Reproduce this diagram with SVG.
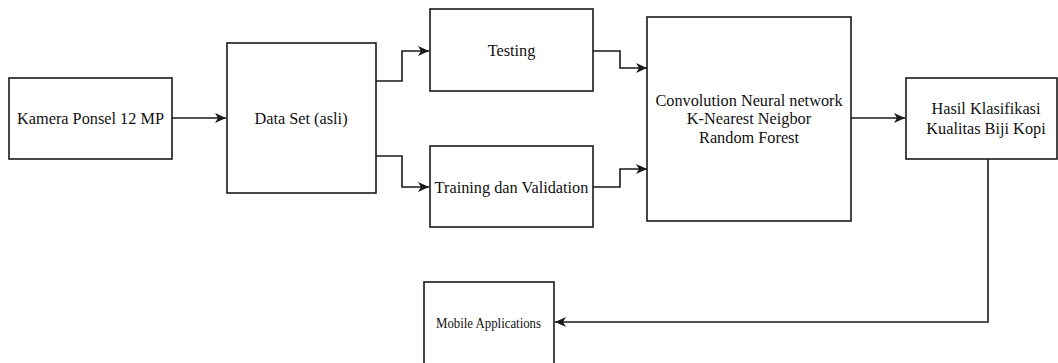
<svg xmlns="http://www.w3.org/2000/svg" width="1058" height="363" viewBox="0 0 1058 363">
<style>
.box{fill:#fff;stroke:#1a1a1a;stroke-width:1.6}
.t{font-family:"Liberation Serif","Times New Roman",serif;font-size:16.3px;fill:#111;text-anchor:middle;dominant-baseline:central}
.s{font-size:15.5px}
.c{fill:none;stroke:#1a1a1a;stroke-width:1.6}
</style>
<defs>
<marker id="ah" markerWidth="12" markerHeight="10" refX="11" refY="5" orient="auto" markerUnits="userSpaceOnUse">
<path d="M0,0 L11,5 L0,10 L3,5 Z" fill="#1a1a1a"/>
</marker>
</defs>
<rect width="1058" height="363" fill="#fff"/>
<g id="connectors">
<path class="c" d="M172,118 L226,118" marker-end="url(#ah)"/>
<path class="c" d="M376,81 L402,81 L402,51 L429,51" marker-end="url(#ah)"/>
<path class="c" d="M376,156 L402,156 L402,187 L429,187" marker-end="url(#ah)"/>
<path class="c" d="M593,51 L620,51 L620,68 L647,68" marker-end="url(#ah)"/>
<path class="c" d="M593,187 L620,187 L620,169 L647,169" marker-end="url(#ah)"/>
<path class="c" d="M851,118 L905,118" marker-end="url(#ah)"/>
<path class="c" d="M988,159 L988,322 L555,322" marker-end="url(#ah)"/>
</g>
<g id="kamera">
<rect class="box" x="9" y="78" width="163" height="81"/>
<text class="t" x="90.5" y="118.5">Kamera Ponsel 12 MP</text>
</g>
<g id="dataset">
<rect class="box" x="227" y="43" width="149" height="150"/>
<text class="t" x="301" y="118.5">Data Set (asli)</text>
</g>
<g id="testing">
<rect class="box" x="430" y="9" width="163" height="82"/>
<text class="t" x="511.5" y="50.5">Testing</text>
</g>
<g id="training">
<rect class="box" x="430" y="146" width="163" height="81"/>
<text class="t" x="511.5" y="187">Training dan Validation</text>
</g>
<g id="models">
<rect class="box" x="647" y="17" width="204" height="204"/>
<text class="t" x="749" y="100">Convolution Neural network</text>
<text class="t" x="749" y="118.5">K-Nearest Neigbor</text>
<text class="t" x="749" y="137">Random Forest</text>
</g>
<g id="hasil">
<rect class="box" x="906" y="78" width="151" height="81"/>
<text class="t" x="986" y="108.5">Hasil Klasifikasi</text>
<text class="t" x="986" y="128.5">Kualitas Biji Kopi</text>
</g>
<g id="mobile">
<rect class="box" x="424" y="282" width="130" height="90"/>
<text class="t s" x="488.5" y="322.5" textLength="105" lengthAdjust="spacingAndGlyphs">Mobile Applications</text>
</g>
</svg>
